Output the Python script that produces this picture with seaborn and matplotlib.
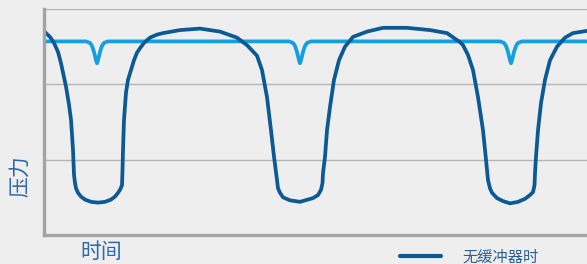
import pandas as pd
import matplotlib
matplotlib.use("Agg")
import matplotlib.pyplot as plt
import seaborn as sns

# dark curve: pressure without damper
t_no = [0, 2, 6, 10, 14, 17, 22, 25, 27, 29, 30, 31, 32, 34, 37, 41, 47, 54, 61, 67, 71, 74, 76, 78, 78.5, 79, 80,
        82, 84, 87, 90, 93, 96, 100, 106, 113, 119, 136, 156, 176, 193, 203,
        213, 218, 223, 227, 230, 233, 234, 236, 239, 246, 256, 269, 274, 277, 278.5, 279, 281, 283, 286,
        290, 295, 301, 309, 323, 339, 363, 386, 403, 416,
        419, 424, 429, 434, 439, 442, 444, 446, 448, 453, 459, 466, 474, 481, 486, 489, 490.5, 491, 492,
        494, 497, 501, 506, 513, 521, 529, 543]
p_no = [2.71, 2.68, 2.63, 2.55, 2.43, 2.28, 1.97, 1.73, 1.53, 1.13, 0.80, 0.69, 0.62, 0.56, 0.51, 0.47, 0.44, 0.43, 0.44, 0.47, 0.51, 0.56, 0.60, 0.66, 0.86, 1.13, 1.53,
        1.89, 2.06, 2.19, 2.32, 2.42, 2.48, 2.55, 2.62, 2.66, 2.68, 2.72, 2.74, 2.70, 2.62, 2.52,
        2.38, 2.19, 1.83, 1.39, 1.04, 0.73, 0.62, 0.56, 0.50, 0.46, 0.44, 0.49, 0.53, 0.60, 0.69, 0.82, 1.04, 1.39, 1.70,
        2.06, 2.32, 2.50, 2.63, 2.70, 2.75, 2.75, 2.72, 2.68, 2.56,
        2.52, 2.39, 2.19, 1.83, 1.39, 1.00, 0.73, 0.62, 0.56, 0.49, 0.45, 0.42, 0.44, 0.48, 0.53, 0.57, 0.66, 0.82, 1.04,
        1.39, 1.75, 2.06, 2.32, 2.50, 2.62, 2.68, 2.71]

# light curve: pressure with damper
t_with = [0, 42, 46, 48, 50, 52, 53, 54, 56, 58, 60, 64,
          245, 249, 251, 253, 255, 256, 257, 259, 261, 263, 267,
          456, 460, 462, 464, 466, 467, 468, 470, 472, 474, 478, 543]
p_with = [2.57, 2.57, 2.55, 2.51, 2.43, 2.32, 2.28, 2.32, 2.43, 2.51, 2.55, 2.57,
          2.57, 2.55, 2.51, 2.43, 2.32, 2.28, 2.32, 2.43, 2.51, 2.55, 2.57,
          2.57, 2.55, 2.51, 2.43, 2.32, 2.28, 2.32, 2.43, 2.51, 2.55, 2.57, 2.57]

legend_label = "无缓冲器时"
x_label = "时间"
y_label = "压力"

sns.set_theme(style="white")
plt.rcParams["font.family"] = ["Noto Sans CJK SC", "DejaVu Sans"]

bg = "#eeeeee"
fig = plt.figure(figsize=(5.87, 2.64), dpi=100, facecolor=bg)
ax = fig.add_axes([44 / 587, 29 / 264, 543 / 587, 226 / 264])
ax.set_facecolor(bg)

df_no = pd.DataFrame({"t": t_no, "p": p_no})
df_with = pd.DataFrame({"t": t_with, "p": p_with})

sns.lineplot(data=df_with, x="t", y="p", ax=ax, color="#14a0e0", lw=2.7, sort=False,
             estimator=None, solid_joinstyle="round", solid_capstyle="round")
sns.lineplot(data=df_no, x="t", y="p", ax=ax, color="#0b5a96", lw=2.7, sort=False,
             estimator=None, solid_joinstyle="round", solid_capstyle="round", label=legend_label)

ax.set_xlim(0, 543)
ax.set_ylim(0, 3.0)
ax.set_yticks([1, 2, 3])
ax.set_xticks([])
ax.tick_params(left=False, labelleft=False)
ax.yaxis.grid(True, color="#b4b4b4", lw=1.0)
ax.set_axisbelow(True)
for s in ["top", "right"]:
    ax.spines[s].set_visible(False)
for s in ["left", "bottom"]:
    ax.spines[s].set_color("#a3a3a3")
    ax.spines[s].set_linewidth(2.4)

ax.set_xlabel("")
ax.set_ylabel("")
fig.text(101 / 587, (264 - 252) / 264, x_label, ha="center", va="center",
         fontsize=15, color="#2a68a6")
fig.text(20 / 587, (264 - 176) / 264, y_label, ha="center", va="center",
         fontsize=15, color="#2a68a6", rotation=90)

leg = ax.legend(loc="center left", bbox_to_anchor=(400 / 587, (264 - 257) / 264),
                bbox_transform=fig.transFigure, frameon=False, borderpad=0,
                borderaxespad=0, handlelength=2.7, handletextpad=1.4, fontsize=11)
for txt in leg.get_texts():
    txt.set_color("#2d5f8f")
for line in leg.get_lines():
    line.set_linewidth(3)

fig.savefig("out.png", dpi=100, facecolor=bg)
